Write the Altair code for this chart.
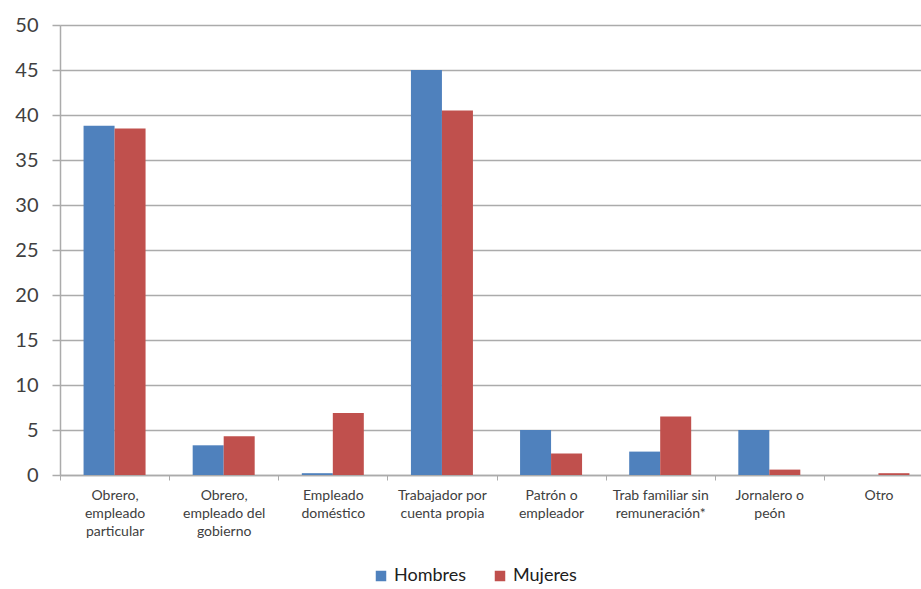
import altair as alt
import pandas as pd

# Categories (line breaks marked with "|") and values per sex
categorias = [
    "Obrero,|empleado|particular",
    "Obrero,|empleado del|gobierno",
    "Empleado|doméstico",
    "Trabajador por|cuenta propia",
    "Patrón o|empleador",
    "Trab familiar sin|remuneración*",
    "Jornalero o|peón",
    "Otro",
]
hombres = [38.8, 3.3, 0.2, 45.0, 5.0, 2.6, 5.0, 0.0]
mujeres = [38.5, 4.3, 6.9, 40.5, 2.4, 6.5, 0.6, 0.2]
series = ["Hombres", "Mujeres"]
colores = ["#4F81BD", "#C0504D"]
y_ticks = list(range(0, 51, 5))

rows = []
for c, h, m in zip(categorias, hombres, mujeres):
    rows.append({"categoria": c, "sexo": "Hombres", "valor": h})
    rows.append({"categoria": c, "sexo": "Mujeres", "valor": m})
df = pd.DataFrame(rows)

FONT = "Lato"
GRAY = "#ABABAB"
TEXT = "#404040"

chart = (
    alt.Chart(df)
    .mark_bar()
    .encode(
        x=alt.X(
            "categoria:N",
            sort=categorias,
            title=None,
            scale=alt.Scale(paddingInner=0, paddingOuter=0, range=[0, 873]),
            axis=alt.Axis(
                labelAngle=0,
                labelExpr="split(datum.label, '|')",
                labelFont=FONT,
                labelFontSize=14,
                labelLineHeight=18,
                labelColor=TEXT,
                labelPadding=8,
                labelBaseline="top",
                tickBand="extent",
                tickSize=5,
                tickColor=GRAY,
                domainColor=GRAY,
                domainWidth=1.5,
                grid=False,
            ),
        ),
        xOffset=alt.XOffset(
            "sexo:N",
            sort=series,
            scale=alt.Scale(paddingInner=0, paddingOuter=0.76),
        ),
        y=alt.Y(
            "valor:Q",
            title=None,
            scale=alt.Scale(domain=[0, 50], nice=False),
            axis=alt.Axis(
                values=y_ticks,
                labelFont=FONT,
                labelFontSize=20,
                labelColor=TEXT,
                labelPadding=14,
                tickSize=8,
                tickColor=GRAY,
                tickWidth=1.5,
                domainColor=GRAY,
                domainWidth=1.5,
                grid=True,
                gridColor=GRAY,
                gridWidth=1.5,
            ),
        ),
        color=alt.Color(
            "sexo:N",
            sort=series,
            scale=alt.Scale(domain=series, range=colores),
            legend=alt.Legend(
                title=None,
                orient="none",
                direction="horizontal",
                legendX=312,
                legendY=542,
                symbolType="square",
                symbolSize=110,
                symbolStrokeWidth=0,
                labelFont=FONT,
                labelFontSize=18,
                labelColor="#202020",
                labelOffset=4,
                columnPadding=24,
            ),
        ),
    )
    .properties(
        width=861,
        height=450,
        autosize=alt.AutoSizeParams(type="none"),
        padding={"left": 60, "top": 25, "right": 0, "bottom": 114},
    )
    .configure_view(stroke=None)
    .configure(background="white")
)

chart.save("out.html", embed_options={"renderer": "svg", "actions": False})
